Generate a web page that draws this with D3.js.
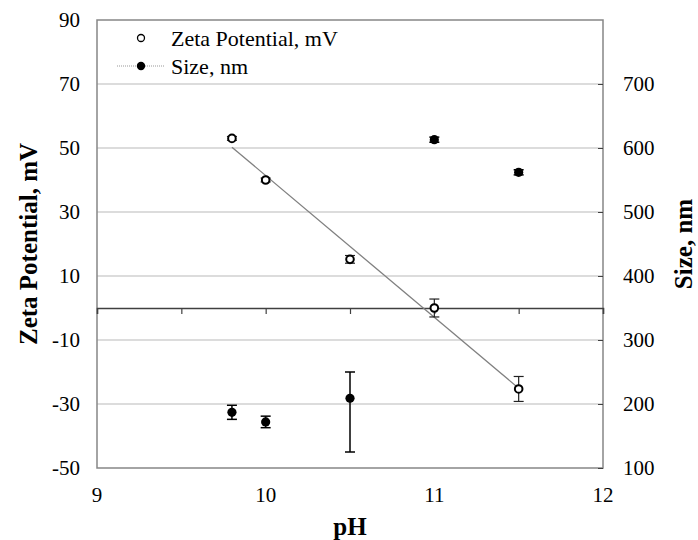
<!DOCTYPE html>
<html>
<head>
<meta charset="utf-8">
<script src="https://cdn.jsdelivr.net/npm/d3@7"></script>
<style>
  body { margin: 0; background: #fff; }
  svg text { font-family: "Liberation Serif", "Times New Roman", serif; fill: #000; }
</style>
</head>
<body>
<div id="chart"></div>
<script>
// values
const phValues = [9.8, 10, 10.5, 11, 11.5];
const zetaValues = [53, 40, 15.2, 0, -25.3];
const zetaErrors = [0.6, 0.6, 1.2, 2.8, 3.9];
const sizeValues = [187, 172, 209, 613, 562];
const sizeErrorsUp = [11, 9, 41, 4, 4];
const sizeErrorsDown = [11, 9, 84, 4, 4];
const xTickLabels = [9, 10, 11, 12];
const leftTickLabels = [90, 70, 50, 30, 10, -10, -30, -50];
const rightTickLabels = [100, 200, 300, 400, 500, 600, 700];
const legendLabels = ['Zeta Potential, mV', 'Size, nm'];

const width = 698;
const height = 540;
const margin = { top: 20, right: 95, bottom: 72, left: 97 };

const svg = d3.select('#chart')
    .append('svg')
    .attr('width', width)
    .attr('height', height);

const xScale = d3.scaleLinear()
    .domain([9, 12])
    .range([margin.left, width - margin.right]);
const yLeft = d3.scaleLinear()
    .domain([-50, 90])
    .range([height - margin.bottom, margin.top]);
const yRight = d3.scaleLinear()
    .domain([100, 800])
    .range([height - margin.bottom, margin.top]);

// gridlines
svg.append('g')
    .selectAll('line')
    .data(leftTickLabels.filter(d => d !== 90 && d !== -50))
    .join('line')
        .attr('x1', margin.left)
        .attr('x2', width - margin.right)
        .attr('y1', d => yLeft(d))
        .attr('y2', d => yLeft(d))
        .attr('stroke', '#d0d0d0')
        .attr('stroke-width', 1.5);

// plot border
svg.append('rect')
    .attr('x', margin.left)
    .attr('y', margin.top)
    .attr('width', width - margin.left - margin.right)
    .attr('height', height - margin.top - margin.bottom)
    .attr('fill', 'none')
    .attr('stroke', '#868686')
    .attr('stroke-width', 1.5);

// x axis line crossing at zero, ticks every 0.5
const xAxis = d3.axisBottom(xScale)
    .tickValues(d3.range(9, 12.01, 0.5))
    .tickSize(6)
    .tickFormat('');
svg.append('g')
    .attr('transform', `translate(0, ${yLeft(0)})`)
    .call(xAxis)
    .call(g => g.select('.domain').attr('stroke', '#404040').attr('stroke-width', 1.5))
    .call(g => g.selectAll('.tick line').attr('stroke', '#404040').attr('stroke-width', 1.2));

// x tick labels at bottom
svg.append('g')
    .selectAll('text')
    .data(xTickLabels)
    .join('text')
        .attr('x', d => xScale(d))
        .attr('y', height - margin.bottom + 34)
        .attr('text-anchor', 'middle')
        .style('font-size', '21px')
        .text(d => d);

// left axis labels
const leftAxis = d3.axisLeft(yLeft)
    .tickValues(leftTickLabels)
    .tickSize(0)
    .tickPadding(17)
    .tickFormat(d => String(d));
svg.append('g')
    .attr('transform', `translate(${margin.left}, 0)`)
    .call(leftAxis)
    .call(g => g.select('.domain').remove())
    .call(g => g.selectAll('text')
        .style('font-size', '21px')
        .style('font-family', '"Liberation Serif", serif'));

// right axis with inward ticks
const rightAxis = d3.axisRight(yRight)
    .tickValues(rightTickLabels)
    .tickSize(-5)
    .tickPadding(20)
    .tickFormat(d => String(d));
svg.append('g')
    .attr('transform', `translate(${width - margin.right}, 0)`)
    .call(rightAxis)
    .call(g => g.select('.domain').remove())
    .call(g => g.selectAll('.tick line').attr('stroke', '#404040'))
    .call(g => g.selectAll('text')
        .style('font-size', '21px')
        .style('font-family', '"Liberation Serif", serif'));

// axis titles
svg.append('text')
    .attr('transform', `translate(37, ${(margin.top + height - margin.bottom) / 2}) rotate(-90)`)
    .attr('text-anchor', 'middle')
    .style('font-size', '25px')
    .style('font-weight', 'bold')
    .text('Zeta Potential, mV');
svg.append('text')
    .attr('transform', `translate(692, ${(margin.top + height - margin.bottom) / 2}) rotate(-90)`)
    .attr('text-anchor', 'middle')
    .style('font-size', '25px')
    .style('font-weight', 'bold')
    .text('Size, nm');
svg.append('text')
    .attr('x', (margin.left + width - margin.right) / 2)
    .attr('y', 535)
    .attr('text-anchor', 'middle')
    .style('font-size', '25px')
    .style('font-weight', 'bold')
    .text('pH');

// linear trendline through the zeta points
const meanX = d3.mean(phValues);
const meanY = d3.mean(zetaValues);
const slope = d3.sum(phValues, (x, i) => (x - meanX) * (zetaValues[i] - meanY)) /
    d3.sum(phValues, x => (x - meanX) ** 2);
const intercept = meanY - slope * meanX;
const trendX = d3.extent(phValues);
svg.append('path')
    .attr('d', d3.line()
        .x(d => xScale(d))
        .y(d => yLeft(slope * d + intercept))(trendX))
    .attr('fill', 'none')
    .attr('stroke', '#808080')
    .attr('stroke-width', 1.3);

const zetaData = phValues.map((ph, i) => ({ ph, v: zetaValues[i], e: zetaErrors[i] }));
const sizeData = phValues.map((ph, i) => ({ ph, v: sizeValues[i], up: sizeErrorsUp[i], down: sizeErrorsDown[i] }));

const drawErrorBars = (data, yScale, hi, lo, color, w) => {
    const g = svg.append('g').attr('stroke', color).attr('stroke-width', w);
    data.forEach(d => {
        const x = xScale(d.ph);
        const y1 = yScale(hi(d));
        const y2 = yScale(lo(d));
        g.append('line').attr('x1', x).attr('x2', x).attr('y1', y1).attr('y2', y2);
        g.append('line').attr('x1', x - 5).attr('x2', x + 5).attr('y1', y1).attr('y2', y1);
        g.append('line').attr('x1', x - 5).attr('x2', x + 5).attr('y1', y2).attr('y2', y2);
    });
};

drawErrorBars(zetaData, yLeft, d => d.v + d.e, d => d.v - d.e, '#222', 1.2);
drawErrorBars(sizeData, yRight, d => d.v + d.up, d => d.v - d.down, '#000', 1.5);

// zeta: open circles
svg.append('g')
    .selectAll('circle')
    .data(zetaData)
    .join('circle')
        .attr('cx', d => xScale(d.ph))
        .attr('cy', d => yLeft(d.v))
        .attr('r', 3.8)
        .attr('fill', '#fff')
        .attr('stroke', '#000')
        .attr('stroke-width', 2);

// size: filled circles
svg.append('g')
    .selectAll('circle')
    .data(sizeData)
    .join('circle')
        .attr('cx', d => xScale(d.ph))
        .attr('cy', d => yRight(d.v))
        .attr('r', 4.6)
        .attr('fill', '#000');

// legend
const legend = svg.append('g');
legend.append('circle')
    .attr('cx', 141).attr('cy', 38).attr('r', 3.5)
    .attr('fill', '#fff').attr('stroke', '#000').attr('stroke-width', 1.3);
legend.append('line')
    .attr('x1', 117).attr('x2', 165).attr('y1', 66).attr('y2', 66)
    .attr('stroke', '#999').attr('stroke-width', 1)
    .attr('stroke-dasharray', '1,1');
legend.append('circle')
    .attr('cx', 141).attr('cy', 66).attr('r', 4.2)
    .attr('fill', '#000');
legend.selectAll('text')
    .data(legendLabels)
    .join('text')
        .attr('x', 171)
        .attr('y', (d, i) => 38 + i * 28)
        .attr('dy', '0.35em')
        .style('font-size', '22px')
        .text(d => d);
</script>
</body>
</html>
